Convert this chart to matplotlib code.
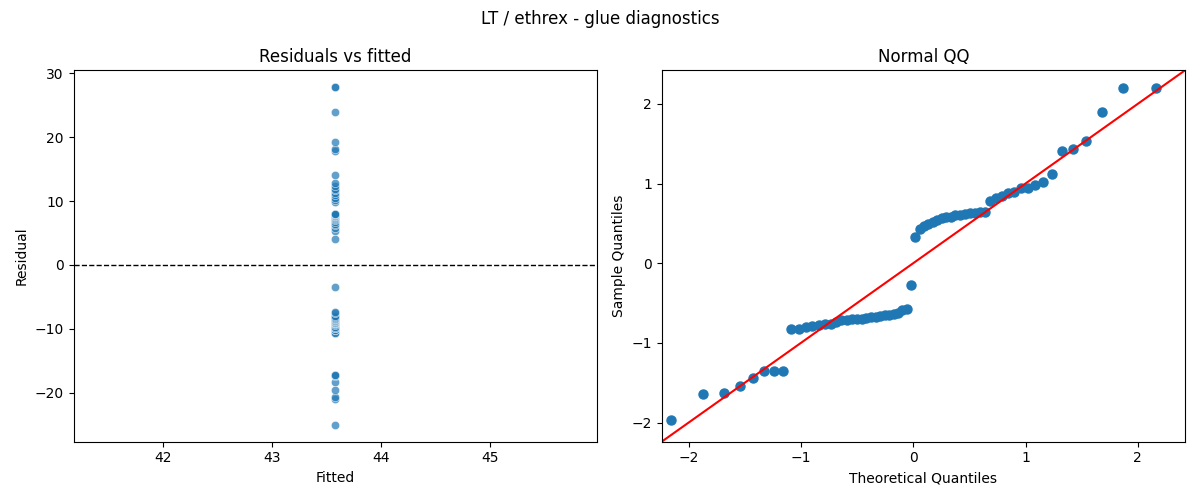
import numpy as np
import matplotlib
matplotlib.use("Agg")
import matplotlib.pyplot as plt
import seaborn as sns
from statistics import NormalDist

# ---- data ----
fitted_value = 43.58
residuals = [
    -25.0, -20.9, -20.7, -19.6, -18.3, -17.3, -17.2, -17.2,
    -10.6, -10.6, -10.2, -10.1, -9.9, -9.8, -9.7, -9.4,
    -9.2, -9.1, -9.0, -9.0, -8.9, -8.8, -8.7, -8.6,
    -8.5, -8.4, -8.3, -8.2, -8.0, -7.5, -7.4, -3.5,
    4.0, 5.3, 5.8, 6.2, 6.4, 6.7, 7.0, 7.2,
    7.3, 7.5, 7.6, 7.7, 7.8, 7.9, 8.0, 8.0,
    9.8, 10.2, 10.5, 11.0, 11.2, 11.8, 11.9, 12.3,
    12.8, 14.0, 17.8, 18.1, 19.3, 23.9, 27.8, 27.8,
]
title = "LT / ethrex - glue diagnostics"
qq_limits = (-2.24, 2.42)

resid = np.array(residuals)
fitted = np.full(resid.size, fitted_value)

# standardized residuals and normal theoretical quantiles
z = np.sort((resid - resid.mean()) / resid.std())
n = z.size
nd = NormalDist()
theo = np.array([nd.inv_cdf(i / (n + 1)) for i in range(1, n + 1)])

fig, (ax1, ax2) = plt.subplots(1, 2, figsize=(12, 5), dpi=100)

sns.scatterplot(x=fitted, y=resid, ax=ax1, alpha=0.7)
ax1.axhline(0, color="black", linestyle="--", linewidth=1)
ax1.set_title("Residuals vs fitted")
ax1.set_xlabel("Fitted")
ax1.set_ylabel("Residual")

ax2.plot(theo, z, marker="o", linestyle="none", color="C0", markersize=6.5)
ax2.plot(qq_limits, qq_limits, color="red", linewidth=1.5)
ax2.set_xlim(qq_limits)
ax2.set_ylim(qq_limits)
ax2.set_title("Normal QQ")
ax2.set_xlabel("Theoretical Quantiles")
ax2.set_ylabel("Sample Quantiles")

fig.suptitle(title)
fig.tight_layout()
fig.savefig("out.png")
